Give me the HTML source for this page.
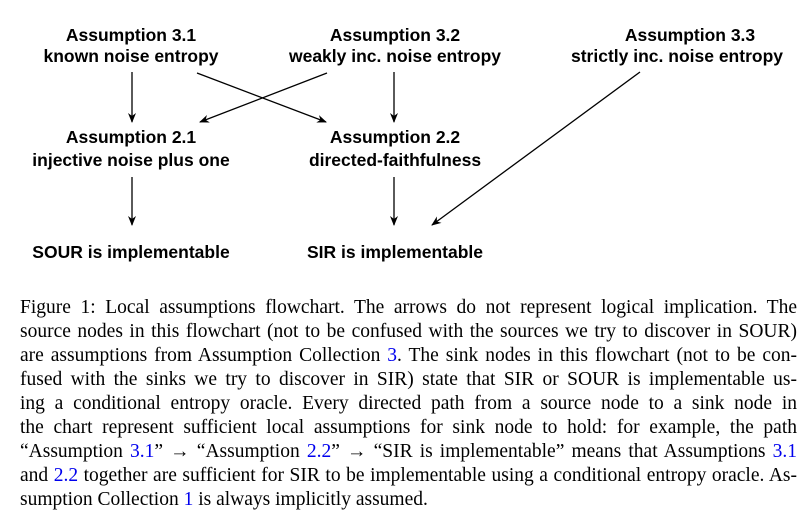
<!DOCTYPE html>
<html><head><meta charset="utf-8"><style>
body{margin:0;width:809px;height:526px;background:#fff;overflow:hidden;position:relative}
svg{position:absolute;left:0;top:0}
.cap{position:absolute;left:20px;width:777px;font-family:"Liberation Serif",serif;font-size:19.5px;word-spacing:-2px;color:#000}
.ln{position:absolute;left:0;width:777px;height:24px;line-height:24px;text-align:justify;text-align-last:justify;white-space:nowrap}
.ln.last{text-align-last:left;word-spacing:0}
a{color:#00e;text-decoration:none}
</style></head><body>
<svg width="809" height="280">
<defs><marker id="ah" markerWidth="10" markerHeight="8" refX="9" refY="4" orient="auto" markerUnits="userSpaceOnUse"><path d="M0,0 L10,4 L0,8 L3,4z" fill="#000"/></marker></defs>
<g font-family="Liberation Sans, sans-serif" font-weight="bold" font-size="17.5" text-anchor="middle" fill="#000">
<text x="131" y="41">Assumption 3.1</text>
<text x="131" y="62">known noise entropy</text>
<text x="395" y="41">Assumption 3.2</text>
<text x="395" y="62">weakly inc. noise entropy</text>
<text x="690" y="41">Assumption 3.3</text>
<text x="677" y="62">strictly inc. noise entropy</text>
<text x="131" y="143">Assumption 2.1</text>
<text x="131" y="166">injective noise plus one</text>
<text x="395" y="143">Assumption 2.2</text>
<text x="395" y="166">directed-faithfulness</text>
<text x="131" y="258">SOUR is implementable</text>
<text x="395" y="258">SIR is implementable</text>
</g>
<g stroke="#000" stroke-width="1.3" marker-end="url(#ah)">
<line x1="132" y1="72" x2="132" y2="122"/>
<line x1="197" y1="73" x2="326" y2="122"/>
<line x1="327" y1="73" x2="200" y2="122"/>
<line x1="394" y1="72" x2="394" y2="122"/>
<line x1="132" y1="177" x2="132" y2="225"/>
<line x1="394" y1="177" x2="394" y2="225"/>
<line x1="640" y1="72" x2="432" y2="225"/>
</g>
</svg>
<div class="cap" style="top:296px">
<div class="ln" style="top:0">Figure 1: Local assumptions flowchart. The arrows do not represent logical implication. The</div>
<div class="ln" style="top:24px">source nodes in this flowchart (not to be confused with the sources we try to discover in SOUR)</div>
<div class="ln" style="top:48px">are assumptions from Assumption Collection <a>3</a>. The sink nodes in this flowchart (not to be con-</div>
<div class="ln" style="top:72px">fused with the sinks we try to discover in SIR) state that SIR or SOUR is implementable us-</div>
<div class="ln" style="top:96px">ing a conditional entropy oracle. Every directed path from a source node to a sink node in</div>
<div class="ln" style="top:120px">the chart represent sufficient local assumptions for sink node to hold: for example, the path</div>
<div class="ln" style="top:144px">“Assumption <a>3.1</a>” → “Assumption <a>2.2</a>” → “SIR is implementable” means that Assumptions <a>3.1</a></div>
<div class="ln" style="top:168px">and <a>2.2</a> together are sufficient for SIR to be implementable using a conditional entropy oracle. As-</div>
<div class="ln last" style="top:192px">sumption Collection <a>1</a> is always implicitly assumed.</div>
</div>
</body></html>
